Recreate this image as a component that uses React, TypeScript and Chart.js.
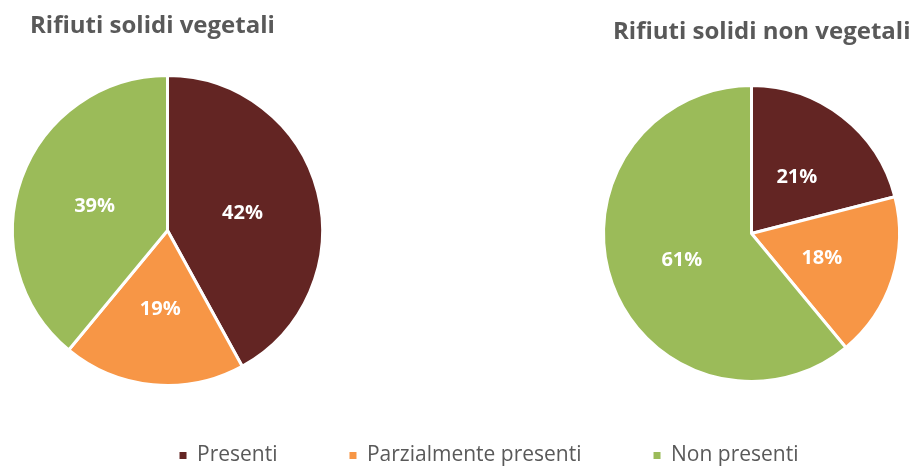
import React, { useEffect, useRef } from "react";
import { Chart, registerables } from "chart.js";

Chart.register(...registerables);

const categories = ["Presenti", "Parzialmente presenti", "Non presenti"];
const vegetaliValues = [42, 19, 39];
const nonVegetaliValues = [21, 18, 61];
const colors = ["#632523", "#F79646", "#9BBB59"];
const titleLeft = "Rifiuti solidi vegetali";
const titleRight = "Rifiuti solidi non vegetali";

const TEXT_COLOR = "#595959";
const FONT = "'Open Sans', 'Noto Sans', sans-serif";

const percentLabels = {
  id: "percentLabels",
  afterDatasetsDraw(chart: any) {
    const ctx = chart.ctx;
    const meta = chart.getDatasetMeta(0);
    const data = chart.data.datasets[0].data;
    ctx.save();
    ctx.fillStyle = "#FFFFFF";
    ctx.font = `bold 20px ${FONT}`;
    ctx.textAlign = "center";
    ctx.textBaseline = "middle";
    meta.data.forEach((arc: any, i: number) => {
      const p = arc.tooltipPosition();
      ctx.fillText(`${data[i]}%`, p.x, p.y + 2);
    });
    ctx.restore();
  },
};

const placedTitle = {
  id: "placedTitle",
  afterDraw(chart: any, _args: any, opts: any) {
    if (!opts || !opts.text) return;
    const ctx = chart.ctx;
    ctx.save();
    ctx.fillStyle = TEXT_COLOR;
    ctx.font = `bold ${opts.size}px ${FONT}`;
    ctx.textAlign = "left";
    ctx.textBaseline = "alphabetic";
    ctx.fillText(opts.text, opts.x, opts.y);
    ctx.restore();
  },
};

function PieChart(props: {
  values: number[];
  title: string;
  titleX: number;
  titleY: number;
  titleSize: number;
  padding: { top: number; bottom: number; left: number; right: number };
  style: React.CSSProperties;
  width: number;
  height: number;
}) {
  const ref = useRef<HTMLCanvasElement>(null);
  useEffect(() => {
    if (!ref.current) return;
    const chart = new Chart(ref.current, {
      type: "pie",
      data: {
        labels: categories,
        datasets: [
          {
            data: props.values,
            backgroundColor: colors,
            borderColor: "#FFFFFF",
            borderWidth: 3,
          },
        ],
      },
      options: {
        animation: false,
        responsive: false,
        maintainAspectRatio: false,
        layout: { padding: props.padding },
        plugins: {
          legend: { display: false },
          tooltip: { enabled: false },
          title: { display: false },
          placedTitle: {
            text: props.title,
            x: props.titleX,
            y: props.titleY,
            size: props.titleSize,
          },
        } as any,
      },
      plugins: [percentLabels, placedTitle],
    });
    return () => chart.destroy();
  }, []);
  return (
    <canvas
      ref={ref}
      width={props.width}
      height={props.height}
      style={{ ...props.style, width: props.width, height: props.height }}
    />
  );
}

function LegendChart(props: { style: React.CSSProperties; width: number; height: number }) {
  const ref = useRef<HTMLCanvasElement>(null);
  useEffect(() => {
    if (!ref.current) return;
    const chart = new Chart(ref.current, {
      type: "pie",
      data: {
        labels: categories,
        datasets: [{ data: [1, 1, 1], backgroundColor: colors, borderWidth: 0 }],
      },
      options: {
        animation: false,
        responsive: false,
        maintainAspectRatio: false,
        radius: 0,
        plugins: {
          tooltip: { enabled: false },
          legend: {
            display: true,
            position: "top",
            align: "center",
            labels: {
              boxWidth: 7,
              boxHeight: 7,
              padding: 72,
              color: TEXT_COLOR,
              font: { family: FONT, size: 21 },
              generateLabels: () =>
                categories.map((t, i) => ({
                  text: t,
                  fillStyle: colors[i],
                  strokeStyle: colors[i],
                  lineWidth: 0,
                  hidden: false,
                  index: i,
                  fontColor: TEXT_COLOR,
                })),
            },
          },
        },
      } as any,
    });
    return () => chart.destroy();
  }, []);
  return (
    <canvas
      ref={ref}
      width={props.width}
      height={props.height}
      style={{ ...props.style, width: props.width, height: props.height }}
    />
  );
}

export default function App() {
  return (
    <div
      style={{
        position: "absolute",
        left: 0,
        top: 0,
        width: 915,
        height: 468,
        overflow: "hidden",
        background: "#FFFFFF",
      }}
    >
      <PieChart
        values={vegetaliValues}
        title={titleLeft}
        titleX={30}
        titleY={33}
        titleSize={24}
        padding={{ top: 74, bottom: 13, left: 0, right: 0 }}
        width={335}
        height={400}
        style={{ position: "absolute", left: 0, top: 0 }}
      />
      <PieChart
        values={nonVegetaliValues}
        title={titleRight}
        titleX={23}
        titleY={39}
        titleSize={24}
        padding={{ top: 84, bottom: 17, left: 0, right: 2 }}
        width={325}
        height={400}
        style={{ position: "absolute", left: 590, top: 0 }}
      />
      <LegendChart
        width={852}
        height={260}
        style={{ position: "absolute", left: 63, top: 373 }}
      />
    </div>
  );
}
